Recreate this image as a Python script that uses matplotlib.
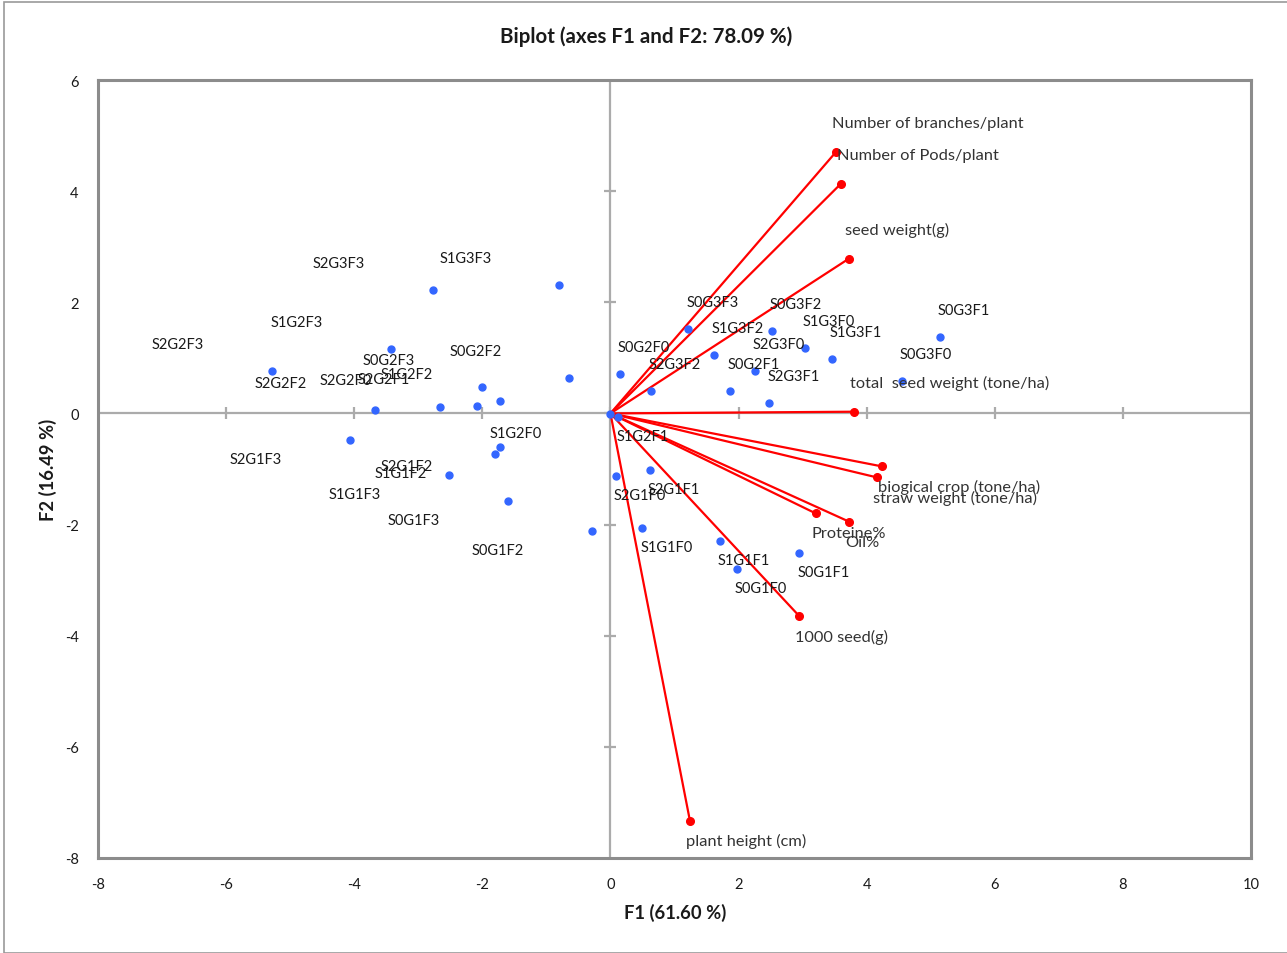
import matplotlib
matplotlib.use("Agg")
import matplotlib.pyplot as plt
from matplotlib.patches import Rectangle

plt.rcParams['font.family'] = ['Lato', 'DejaVu Sans']
plt.rcParams['axes.unicode_minus'] = False

# ---- Observations (F1, F2) ----
obs_names = ["S2G3F3", "S1G3F3", "S1G2F3", "S2G2F3", "S0G2F2", "S0G2F3", "S1G2F2",
             "S2G2F1", "S2G2F0", "S2G2F2", "S2G1F3", "S2G1F2", "S1G1F2", "S1G1F3",
             "S0G1F3", "S0G1F2", "S1G2F0", "S0G3F3", "S0G3F2", "S0G3F1", "S1G3F0",
             "S1G3F2", "S1G3F1", "S0G2F0", "S2G3F0", "S2G3F2", "S0G2F1", "S0G3F0",
             "S2G3F1", "S1G2F1", "S2G1F0", "S2G1F1", "S1G1F0", "S1G1F1", "S0G1F0",
             "S0G1F1"]
obs_f1 = [-2.771, -0.799, -3.427, -5.289, -0.643, -2.001, -1.720, -2.079, -2.662,
          -3.676, -4.071, -1.720, -1.808, -2.526, -1.605, -0.289, -0.010, 1.214,
          2.516, 5.144, 3.031, 1.616, 3.458, 0.148, 2.251, 0.628, 1.861, 4.550,
          2.479, 0.122, 0.086, 0.617, 0.496, 1.709, 1.970, 2.947]
obs_f2 = [2.221, 2.305, 1.159, 0.768, 0.637, 0.480, 0.218, 0.133, 0.115, 0.067,
          -0.473, -0.605, -0.736, -1.103, -1.582, -2.122, -0.010, 1.524, 1.483,
          1.375, 1.177, 1.051, 0.984, 0.704, 0.768, 0.398, 0.398, 0.588, 0.182,
          -0.070, -1.121, -1.013, -2.057, -2.296, -2.800, -2.512]

# ---- Variables (loadings, scaled) ----
var_names = ["Number of branches/plant", "Number of Pods/plant", "seed weight(g)",
             "total  seed weight (tone/ha)", "biogical crop (tone/ha)",
             "straw weight (tone/ha)", "Proteine%", "Oil%", "1000 seed(g)",
             "plant height (cm)"]
var_f1 = [3.520, 3.593, 3.718, 3.801, 4.233, 4.155, 3.203, 3.728, 2.947, 1.241]
var_f2 = [4.704, 4.128, 2.782, 0.031, -0.952, -1.150, -1.798, -1.949, -3.646, -7.330]

x_ticks = [-8, -6, -4, -2, 0, 2, 4, 6, 8, 10]
y_ticks = [-8, -6, -4, -2, 0, 2, 4, 6]

title = "Biplot (axes F1 and F2: 78.09 %)"
xlabel = "F1 (61.60 %)"
ylabel = "F2 (16.49 %)"

W, H = 1287, 954
fig = plt.figure(figsize=(W / 100, H / 100), dpi=100)
fig.patches.append(Rectangle((4 / W, 0), 1.2, (H - 3) / H, transform=fig.transFigure,
                             fill=False, edgecolor='#9a9a9a', linewidth=1.2))
ax = fig.add_axes([98 / W, 1 - 859 / H, (1251 - 98) / W, (859 - 81) / H])
ax.set_xlim(-8, 10)
ax.set_ylim(-8, 6)

for s in ax.spines.values():
    s.set_color('#8c8c8c')
    s.set_linewidth(2.2)

ax.set_xticks(x_ticks)
ax.set_yticks(y_ticks)
ax.tick_params(length=0, labelsize=10.5, labelcolor='#1a1a1a')
ax.tick_params(axis='x', pad=14)
ax.tick_params(axis='y', pad=14)

# zero axes with crossing ticks
ax.axhline(0, color='#ababab', lw=1.6, zorder=1)
ax.axvline(0, color='#ababab', lw=1.6, zorder=1)
ax.plot([t for t in x_ticks if -8 < t < 10], [0] * 8, ls='none', marker='|',
        ms=9, mew=1.6, color='#ababab', zorder=1)
ax.plot([0] * 6, [t for t in y_ticks if -8 < t < 6], ls='none', marker='_',
        ms=9, mew=1.6, color='#ababab', zorder=1)

# variable vectors
for vx, vy, name in zip(var_f1, var_f2, var_names):
    ax.plot([0, vx], [0, vy], color='#ff0000', lw=1.6, zorder=3)
    ax.plot([vx], [vy], 'o', color='#ff0000', ms=5.5, zorder=4)
    dy = 29 if vy > 0 else -20
    ax.annotate(name, (vx, vy), xytext=(-4, dy), textcoords='offset pixels',
                ha='left', va='center', fontsize=11.8, color='#333333', zorder=5)

# observations
ax.plot(obs_f1, obs_f2, 'o', color='#3366ff', ms=5, zorder=4, ls='none')
for ox, oy, name in zip(obs_f1, obs_f2, obs_names):
    dx = 24 if ox >= 0 else -94
    dy = 27 if oy >= 0 else -19
    ax.annotate(name, (ox, oy), xytext=(dx, dy), textcoords='offset pixels',
                ha='center', va='center', fontsize=10.5, color='#1a1a1a', zorder=5)

fig.text(646 / W, 1 - 37 / H, title, ha='center', va='center',
         fontsize=14.8, fontweight='bold', color='#1a1a1a')
fig.text(675 / W, 1 - 913 / H, xlabel, ha='center', va='center', fontsize=13.2,
         fontweight='bold', color='#1a1a1a')
fig.text(48 / W, 1 - 470 / H, ylabel, ha='center', va='center', rotation=90,
         fontsize=13.2, fontweight='bold', color='#1a1a1a')

fig.savefig("out.png", dpi=100, facecolor='white')
